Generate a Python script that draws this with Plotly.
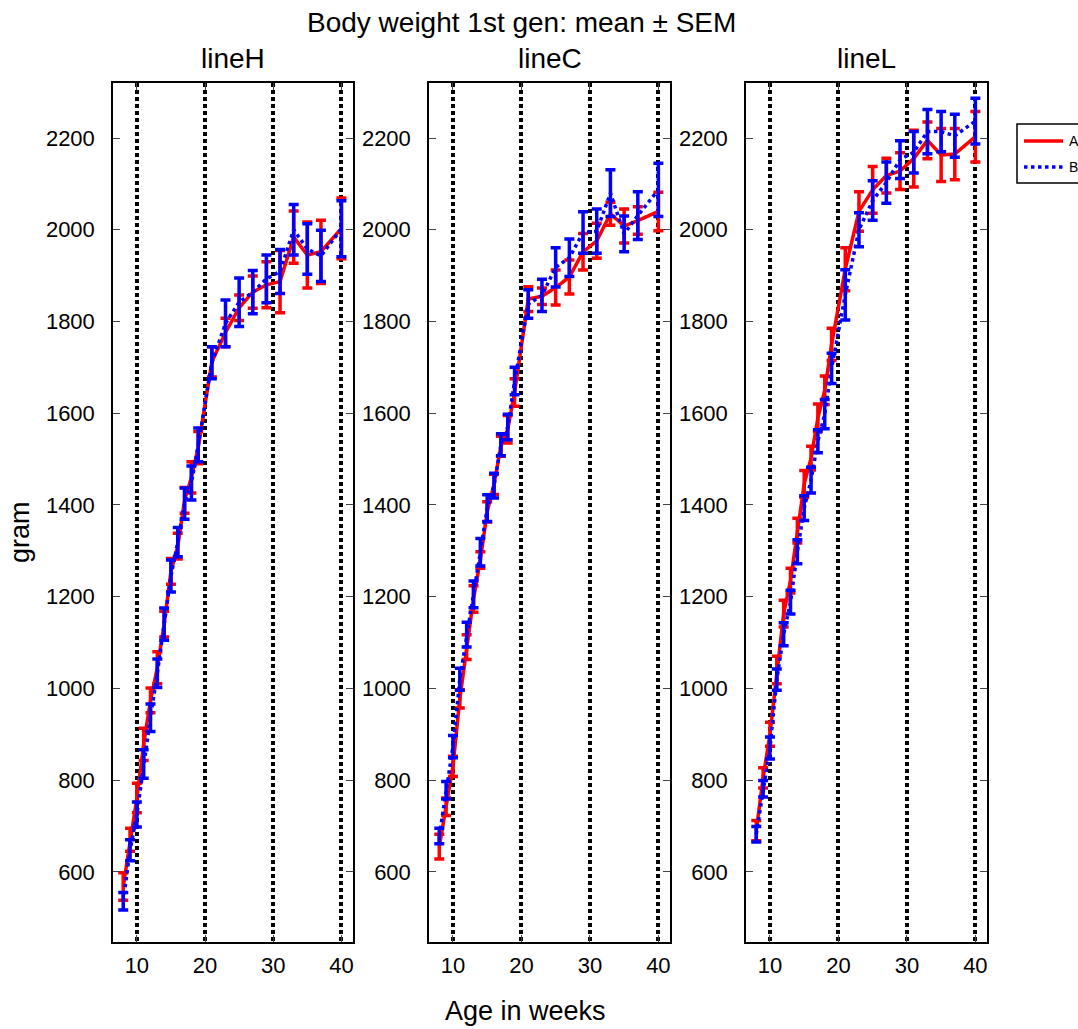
import plotly.graph_objects as go

# Age (weeks) at each weighing
weeks = [8, 9, 10, 11, 12, 13, 14, 15, 16, 17, 18, 19, 21, 23, 25, 27, 29, 31, 33, 35, 37, 40]

lines = ["lineH", "lineC", "lineL"]
groups = ["A", "B"]

# Mean body weight (gram) and SEM, group A
lineH_A_mean = [568, 670, 761, 878, 974, 1045, 1140, 1255, 1310, 1410, 1460, 1525,
                1712, 1776, 1830, 1864, 1880, 1887, 1984, 1945, 1952, 2003]
lineH_A_sem = [30, 25, 32, 35, 27, 35, 28, 28, 28, 28, 34, 35,
               33, 31, 28, 35, 50, 68, 57, 72, 69, 66]
lineC_A_mean = [655, 742, 830, 977, 1090, 1195, 1280, 1385, 1445, 1528, 1565, 1645,
                1849, 1855, 1874, 1897, 1952, 1976, 2035, 2008, 2020, 2040]
lineC_A_sem = [27, 19, 22, 20, 27, 29, 18, 22, 22, 22, 30, 30,
               27, 18, 38, 37, 40, 38, 25, 37, 30, 42]
lineL_A_mean = [690, 805, 900, 1040, 1163, 1235, 1344, 1446, 1502, 1590, 1650, 1750,
                1914, 2040, 2087, 2118, 2128, 2155, 2195, 2163, 2165, 2203]
lineL_A_sem = [22, 22, 26, 30, 29, 27, 27, 29, 26, 30, 31, 35,
               47, 43, 51, 38, 40, 62, 40, 58, 56, 55]

# Mean body weight (gram) and SEM, group B
lineH_B_mean = [536, 647, 725, 835, 936, 1033, 1140, 1245, 1319, 1403, 1448, 1531,
                1710, 1796, 1842, 1864, 1893, 1909, 2000, 1958, 1943, 2002]
lineH_B_sem = [19, 23, 27, 31, 30, 31, 35, 35, 32, 34, 37, 37,
               35, 51, 53, 47, 52, 48, 55, 55, 56, 61]
lineC_B_mean = [678, 778, 873, 1020, 1117, 1205, 1297, 1393, 1442, 1531, 1570, 1670,
                1838, 1857, 1918, 1939, 1994, 1997, 2080, 1991, 2031, 2087]
lineC_B_sem = [17, 19, 24, 24, 27, 29, 30, 29, 27, 24, 28, 30,
               31, 35, 43, 41, 45, 48, 51, 39, 52, 58]
lineL_B_mean = [682, 781, 870, 1019, 1118, 1188, 1298, 1393, 1454, 1539, 1598, 1698,
                1858, 2000, 2064, 2103, 2153, 2169, 2214, 2214, 2205, 2237]
lineL_B_sem = [17, 18, 24, 23, 25, 26, 26, 27, 28, 25, 32, 33,
               55, 37, 43, 45, 41, 45, 48, 44, 47, 50]

group_A = [(lineH_A_mean, lineH_A_sem), (lineC_A_mean, lineC_A_sem), (lineL_A_mean, lineL_A_sem)]
group_B = [(lineH_B_mean, lineH_B_sem), (lineC_B_mean, lineC_B_sem), (lineL_B_mean, lineL_B_sem)]

x_ticks = [10, 20, 30, 40]
y_ticks = [600, 800, 1000, 1200, 1400, 1600, 1800, 2000, 2200]

W, H = 1078, 1029
FONT = "Liberation Sans, Arial, Helvetica, sans-serif"
RED, BLUE = "#ff0000", "#0000ff"

# panel placement in pixels (left, right), shared top/bottom
panels_px = [(113, 353), (429, 670), (746, 987)]
top_px, bottom_px = 83, 942

fig = go.Figure()

for i, name in enumerate(lines):
    xa = "x" if i == 0 else f"x{i+1}"
    ya = "y" if i == 0 else f"y{i+1}"
    mA, sA = group_A[i]
    mB, sB = group_B[i]
    fig.add_trace(go.Scatter(
        x=weeks, y=mA, mode="lines", name=groups[0], showlegend=False,
        line=dict(color=RED, width=3.5),
        error_y=dict(type="data", array=sA, visible=True, color=RED, thickness=3.5, width=5),
        xaxis=xa, yaxis=ya,
    ))
    fig.add_trace(go.Scatter(
        x=weeks, y=mB, mode="lines", name=groups[1], showlegend=False,
        line=dict(color=BLUE, width=3.5, dash="dot"),
        error_y=dict(type="data", array=sB, visible=True, color=BLUE, thickness=3.5, width=5),
        xaxis=xa, yaxis=ya,
    ))

layout = dict(
    width=W, height=H,
    margin=dict(l=0, r=0, t=0, b=0, autoexpand=False),
    paper_bgcolor="white", plot_bgcolor="white",
    font=dict(family=FONT, color="black"),
    showlegend=False,
)

y_dom = [1 - bottom_px / H, 1 - top_px / H]
for i, (l, r) in enumerate(panels_px):
    sx = "xaxis" if i == 0 else f"xaxis{i+1}"
    sy = "yaxis" if i == 0 else f"yaxis{i+1}"
    ya_ref = "y" if i == 0 else f"y{i+1}"
    xa_ref = "x" if i == 0 else f"x{i+1}"
    layout[sx] = dict(
        domain=[l / W, r / W], anchor=ya_ref, range=[6.5, 41.7],
        tickvals=x_ticks, ticks="inside", ticklen=7, tickwidth=1, tickcolor="#444",
        showline=True, linecolor="black", linewidth=1.5, mirror="ticks",
        showgrid=True, gridcolor="black", gridwidth=3.5, griddash="dot",
        zeroline=False, tickfont=dict(size=22), ticklabelstandoff=3,
    )
    layout[sy] = dict(
        domain=y_dom, anchor=xa_ref, range=[447, 2320],
        tickvals=y_ticks, ticks="inside", ticklen=7, tickwidth=1, tickcolor="#444",
        showline=True, linecolor="black", linewidth=1.5, mirror="ticks",
        showgrid=False, zeroline=False, tickfont=dict(size=22), ticklabelstandoff=12,
    )

fig.update_layout(**layout)

annotations = [
    dict(text="Body weight 1st gen: mean \u00b1 SEM", x=521 / W, y=1 - 22 / H,
         font=dict(size=28)),
    dict(text="Age in weeks", x=525 / W, y=1 - 1011 / H, font=dict(size=27)),
    dict(text="gram", x=20 / W, y=1 - 532 / H, textangle=-90, font=dict(size=27)),
]
for (l, r), name in zip(panels_px, lines):
    annotations.append(dict(text=name, x=(l + r) / 2 / W, y=1 - 58 / H, font=dict(size=28)))
for a in annotations:
    a.update(xref="paper", yref="paper", showarrow=False, xanchor="center", yanchor="middle")

# legend box with line samples for groups A and B
shapes = [dict(type="rect", xref="paper", yref="paper",
               x0=1017 / W, x1=1090 / W, y0=1 - 183 / H, y1=1 - 124 / H,
               line=dict(color="black", width=1.5), fillcolor="white", layer="above")]
legend_rows = [(groups[0], RED, "solid", 141), (groups[1], BLUE, "dot", 167)]
for label, color, dash, ypx in legend_rows:
    shapes.append(dict(type="line", xref="paper", yref="paper",
                       x0=1024 / W, x1=1063 / W, y0=1 - ypx / H, y1=1 - ypx / H,
                       line=dict(color=color, width=3.5, dash=dash), layer="above"))
    annotations.append(dict(text=label, xref="paper", yref="paper", x=1067 / W, y=1 - ypx / H,
                            xanchor="left", yanchor="middle", showarrow=False,
                            font=dict(size=14)))

fig.update_layout(annotations=annotations, shapes=shapes)

fig.write_html("out.html")
